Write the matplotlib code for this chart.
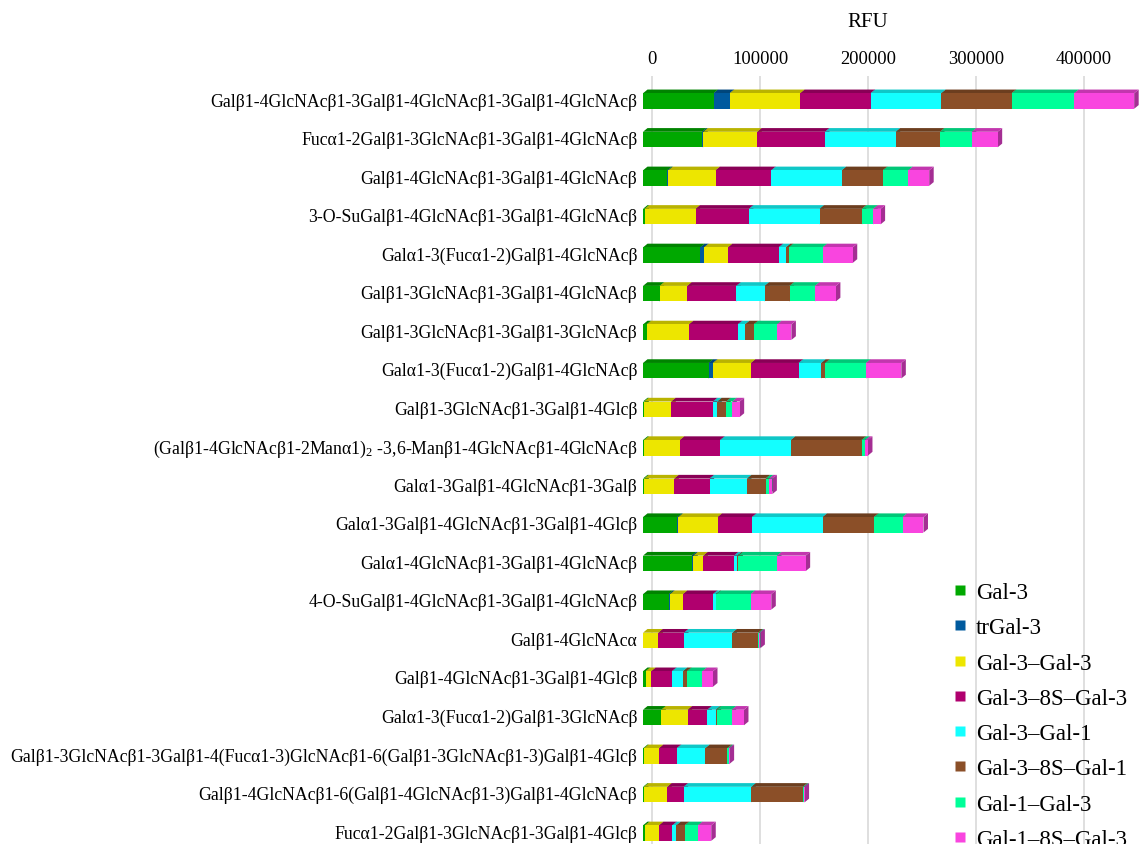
import matplotlib
matplotlib.use("Agg")
import matplotlib.pyplot as plt
from matplotlib.patches import Polygon
from matplotlib.lines import Line2D
from matplotlib.colors import to_rgb

plt.rcParams['font.family'] = ['Liberation Serif', 'DejaVu Serif']
plt.rcParams['mathtext.fontset'] = 'custom'
plt.rcParams['mathtext.rm'] = 'Liberation Serif'
plt.rcParams['mathtext.default'] = 'regular'

categories = [
    "Galβ1-4GlcNAcβ1-3Galβ1-4GlcNAcβ1-3Galβ1-4GlcNAcβ",
    "Fucα1-2Galβ1-3GlcNAcβ1-3Galβ1-4GlcNAcβ",
    "Galβ1-4GlcNAcβ1-3Galβ1-4GlcNAcβ",
    "3-O-SuGalβ1-4GlcNAcβ1-3Galβ1-4GlcNAcβ",
    "Galα1-3(Fucα1-2)Galβ1-4GlcNAcβ",
    "Galβ1-3GlcNAcβ1-3Galβ1-4GlcNAcβ",
    "Galβ1-3GlcNAcβ1-3Galβ1-3GlcNAcβ",
    "Galα1-3(Fucα1-2)Galβ1-4GlcNAcβ",
    "Galβ1-3GlcNAcβ1-3Galβ1-4Glcβ",
    "(Galβ1-4GlcNAcβ1-2Manα1)$_2$ -3,6-Manβ1-4GlcNAcβ1-4GlcNAcβ",
    "Galα1-3Galβ1-4GlcNAcβ1-3Galβ",
    "Galα1-3Galβ1-4GlcNAcβ1-3Galβ1-4Glcβ",
    "Galα1-4GlcNAcβ1-3Galβ1-4GlcNAcβ",
    "4-O-SuGalβ1-4GlcNAcβ1-3Galβ1-4GlcNAcβ",
    "Galβ1-4GlcNAcα",
    "Galβ1-4GlcNAcβ1-3Galβ1-4Glcβ",
    "Galα1-3(Fucα1-2)Galβ1-3GlcNAcβ",
    "Galβ1-3GlcNAcβ1-3Galβ1-4(Fucα1-3)GlcNAcβ1-6(Galβ1-3GlcNAcβ1-3)Galβ1-4Glcβ",
    "Galβ1-4GlcNAcβ1-6(Galβ1-4GlcNAcβ1-3)Galβ1-4GlcNAcβ",
    "Fucα1-2Galβ1-3GlcNAcβ1-3Galβ1-4Glcβ",
]

series_names = ["Gal-3", "trGal-3", "Gal-3–Gal-3", "Gal-3–8S–Gal-3",
                "Gal-3–Gal-1", "Gal-3–8S–Gal-1", "Gal-1–Gal-3", "Gal-1–8S–Gal-3"]

gal3 = [65400, 54600, 22500, 1500, 53100, 15400, 3400, 60800, 1200, 1200,
        1200, 31800, 45100, 23800, 0, 2500, 17000, 900, 900, 1900]
trgal3 = [14800, 1200, 900, 0, 3400, 0, 0, 4000, 0, 0,
          0, 900, 1500, 1200, 0, 0, 0, 0, 0, 0]
gal3_gal3 = [65400, 50000, 43800, 47200, 22200, 25600, 39200, 35200, 25000, 33000,
             27800, 36400, 9300, 12000, 14200, 5200, 24400, 13900, 21600, 13000]
gal3_8s_gal3 = [65100, 62700, 51500, 49400, 46900, 45400, 45100, 44100, 38600, 37300,
                32700, 31800, 28400, 27800, 23800, 19100, 18200, 16400, 15100, 12300]
gal3_gal1 = [65500, 65500, 65400, 65400, 6800, 26200, 6800, 21000, 4000, 65500,
             34600, 65400, 2800, 2500, 44800, 10200, 7700, 26500, 62700, 3700]
gal3_8s_gal1 = [65100, 41000, 38000, 39200, 2500, 23100, 8000, 3700, 8300, 65400,
                17300, 47500, 1200, 600, 24100, 3700, 900, 20400, 47800, 7700]
gal1_gal3 = [58000, 29300, 23500, 10500, 31500, 23500, 21600, 37700, 5600, 3400,
             3100, 26500, 35800, 31800, 900, 14200, 13900, 1200, 900, 12300]
gal1_8s_gal3 = [55500, 24100, 19400, 6800, 27800, 19400, 13300, 32700, 6800, 2500,
                3100, 19400, 26500, 19100, 900, 9900, 11400, 900, 600, 12300]

series = [gal3, trgal3, gal3_gal3, gal3_8s_gal3, gal3_gal1, gal3_8s_gal1, gal1_gal3, gal1_8s_gal3]
colors = ["#00A800", "#005A9E", "#EDE600", "#B0006E", "#13FFFF", "#8B4F28", "#00FF99", "#F945DF"]

xticks = [0, 100000, 200000, 300000, 400000]
axis_title = "RFU"

# ---- layout (pixels) ----
W, H = 1142, 845
fig = plt.figure(figsize=(W / 100, H / 100), dpi=100)
xmin, xmax = -8300, 452000
ymin_top, ymax_bot = -0.597, 19.335
ax_left_px = 652 - (0 - xmin) * 108 / 100000
ax_w_px = (xmax - xmin) * 108 / 100000
ax_top_px, ax_bot_px = 77, 845
ax = fig.add_axes([ax_left_px / W, 1 - ax_bot_px / H, ax_w_px / W, (ax_bot_px - ax_top_px) / H])
ax.set_xlim(xmin, xmax)
ax.set_ylim(ymax_bot, ymin_top)

px_x = (xmax - xmin) / ax_w_px          # data per pixel in x
px_y = (ymax_bot - ymin_top) / (ax_bot_px - ax_top_px)  # data per pixel in y

x_shift = -9 * px_x      # front face offset
depth_x = 4.5 * px_x
depth_y = 3.7 * px_y
bar_h = 15.5 * px_y
y_off = 2.0 * px_y


def shade(c, f):
    r, g, b = to_rgb(c)
    return (r * f, g * f, b * f)


for i in range(len(categories)):
    left = 0.0
    yc = i + y_off
    ytop = yc - bar_h / 2
    ybot = yc + bar_h / 2
    for vals, col in zip(series, colors):
        w = vals[i]
        if w <= 0:
            continue
        x0 = left + x_shift
        x1 = left + w + x_shift
        front = Polygon([(x0, ytop), (x1, ytop), (x1, ybot), (x0, ybot)],
                        closed=True, facecolor=col, edgecolor='none', zorder=2)
        top = Polygon([(x0, ytop), (x1, ytop), (x1 + depth_x, ytop - depth_y), (x0 + depth_x, ytop - depth_y)],
                      closed=True, facecolor=shade(col, 0.78), edgecolor='none', zorder=2)
        side = Polygon([(x1, ytop), (x1, ybot), (x1 + depth_x, ybot - depth_y), (x1 + depth_x, ytop - depth_y)],
                       closed=True, facecolor=shade(col, 0.66), edgecolor='none', zorder=2)
        ax.add_patch(side)
        ax.add_patch(top)
        ax.add_patch(front)
        left += w

ax.set_xticks(xticks)
ax.set_xticklabels([str(t) for t in xticks])
ax.xaxis.tick_top()
ax.xaxis.set_label_position('top')
ax.tick_params(axis='x', length=0, pad=6.5, labelsize=13.3)
ax.set_xlabel(axis_title, fontsize=15, va='center')
ax.xaxis.set_label_coords((868 - ax_left_px) / ax_w_px, 1 + (ax_top_px - 22) / (ax_bot_px - ax_top_px))

ax.set_yticks(range(len(categories)))
ax.set_yticklabels(categories)
ax.tick_params(axis='y', length=0, pad=4, labelsize=12.75)

ax.grid(axis='x', color='#D9D9D9', linewidth=1.2, zorder=0)
ax.set_axisbelow(True)
for s in ax.spines.values():
    s.set_visible(False)

handles = [Line2D([], [], marker='s', linestyle='none', markersize=7.2,
                  markerfacecolor=c, markeredgecolor='none') for c in colors]
fig.legend(handles, series_names, loc='upper left',
           bbox_to_anchor=(951 / W, 1 - 583 / H), frameon=False,
           fontsize=16.5, handlelength=0.8, handletextpad=0.3,
           labelspacing=0.62, borderpad=0, borderaxespad=0)

fig.savefig("out.png", dpi=100)
